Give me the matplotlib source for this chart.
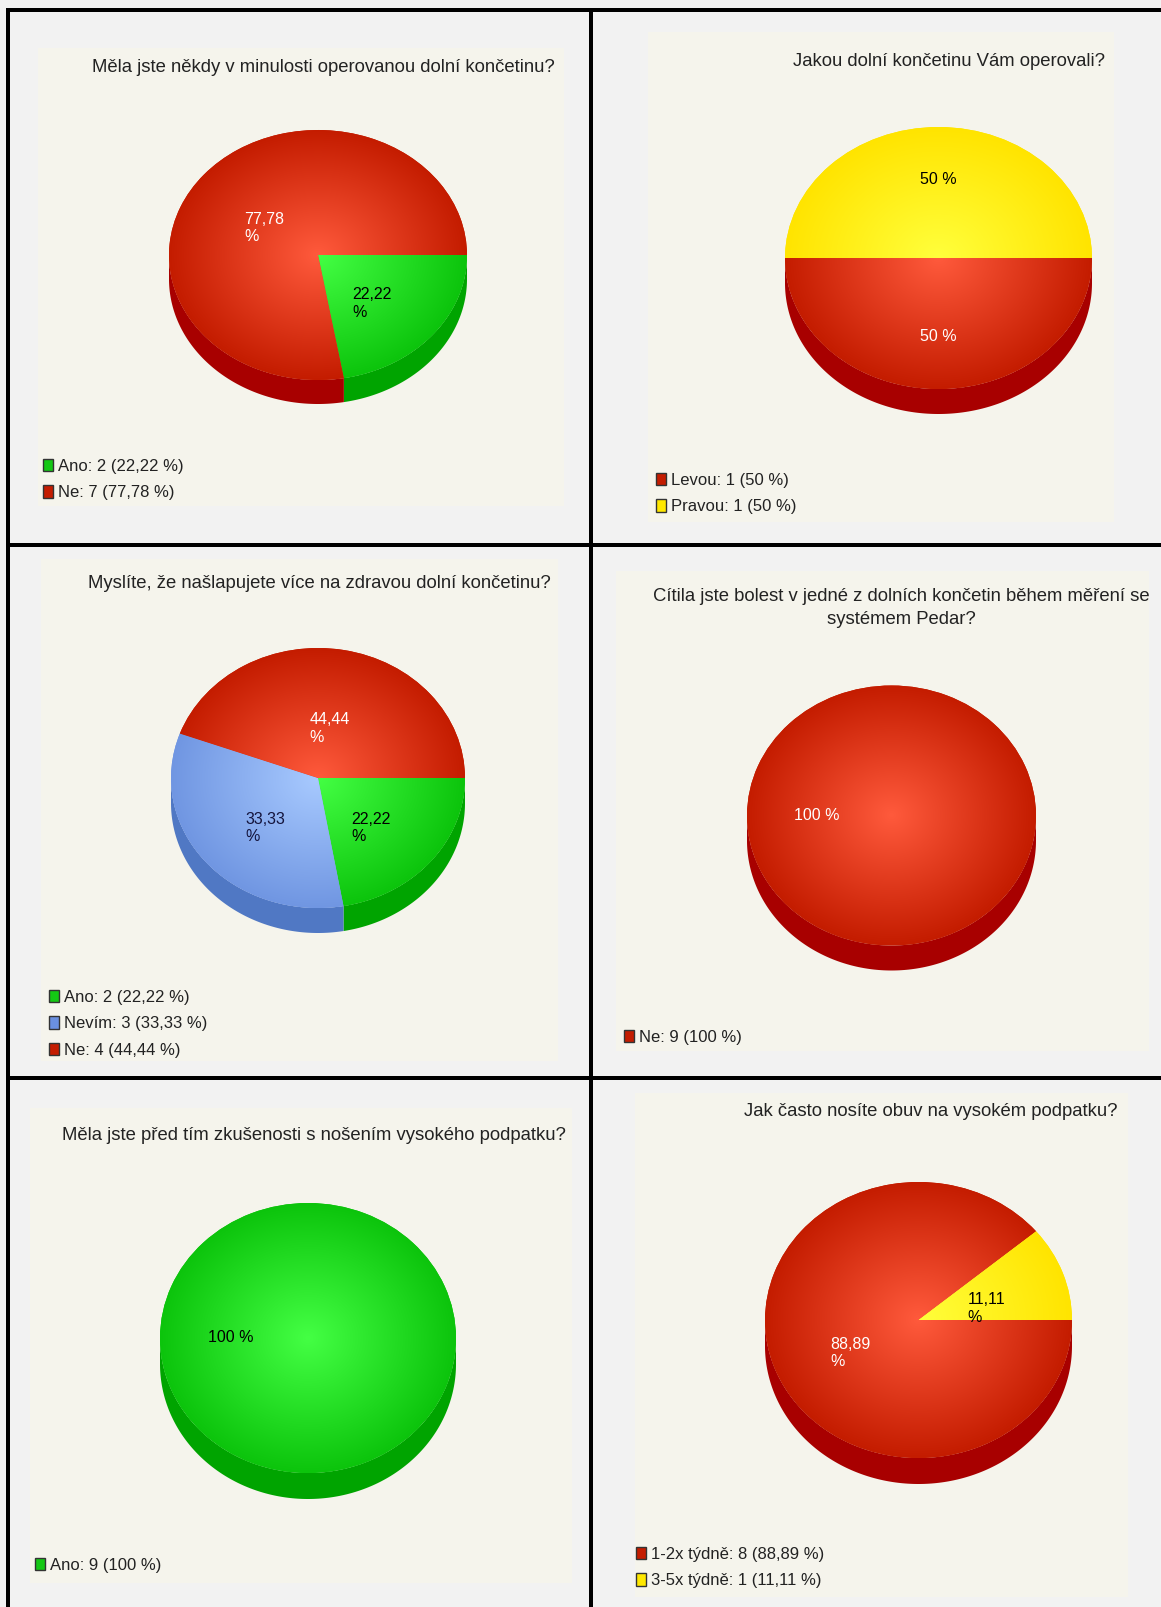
import numpy as np
import matplotlib
matplotlib.use('Agg')
import matplotlib.pyplot as plt
from matplotlib.patches import Rectangle
from matplotlib.colors import to_rgb

W, H = 1161, 1607

# one survey question per panel
titles = [
    'Měla jste někdy v minulosti operovanou dolní končetinu?',
    'Jakou dolní končetinu Vám operovali?',
    'Myslíte, že našlapujete více na zdravou dolní končetinu?',
    'Cítila jste bolest v jedné z dolních končetin během měření se\nsystémem Pedar?',
    'Měla jste před tím zkušenosti s nošením vysokého podpatku?',
    'Jak často nosíte obuv na vysokém podpatku?',
]
answers = [
    ['Ano', 'Ne'],
    ['Levou', 'Pravou'],
    ['Ano', 'Nevím', 'Ne'],
    ['Ne'],
    ['Ano'],
    ['1-2x týdně', '3-5x týdně'],
]
counts = [
    [2, 7],
    [1, 1],
    [2, 3, 4],
    [9],
    [9],
    [8, 1],
]
slice_colors = [
    ['green', 'red'],
    ['red', 'yellow'],
    ['green', 'blue', 'red'],
    ['red'],
    ['green'],
    ['red', 'yellow'],
]

# name: (gradient centre, gradient rim, side, legend box, label text)
palette = {
    'red':    ('#ff5a3c', '#c41c00', '#a80000', '#c41c00', 'white'),
    'green':  ('#44ff44', '#0cc40c', '#00a400', '#14c814', 'black'),
    'blue':   ('#a8caff', '#7096e2', '#5078c4', '#6a90e0', '#14143c'),
    'yellow': ('#ffff3c', '#ffe400', '#d8b800', '#ffe800', 'black'),
}

# panel geometry in pixels: beige box, title anchor, pie ellipse, legend
boxes = [(38, 48, 564, 506), (648, 32, 1114, 522), (41, 559, 558, 1061),
         (616, 571, 1149, 1051), (30, 1108, 572, 1583), (635, 1093, 1128, 1597)]
title_pos = [(555, 67, 'right'), (1105, 61, 'right'), (551, 583, 'right'),
             (901, 608, 'center'), (566, 1135, 'right'), (1117, 1112, 'right')]
pies = [(318, 255, 149, 125, 24), (938.5, 258, 153.5, 131, 25),
        (318, 778, 147, 130, 25), (891.5, 815.5, 144.5, 130, 25),
        (308, 1338, 148, 135, 26), (918.5, 1320, 153.5, 138, 26)]
pct_dist = [0.47, 0.6, 0.47, 0.52, 0.52, 0.47]
legend_pos = [(43, 468), (656, 482), (49, 999), (624, 1039), (35, 1567), (636, 1556)]

TITLE_FONT = ['Liberation Sans', 'DejaVu Sans']
LABEL_FONT = ['Liberation Sans Narrow', 'Liberation Sans', 'DejaVu Sans']


def fmt_pct(p):
    if abs(p - round(p)) < 1e-6:
        return f'{p:.0f}'
    return f'{p:.2f}'.replace('.', ',')


def autopct(p):
    s = fmt_pct(p)
    return s + ' %' if ',' not in s else s + '\n%'


def px_axes(fig, x0, y0, x1, y1):
    return fig.add_axes([x0 / W, 1 - y1 / H, (x1 - x0) / W, (y1 - y0) / H])


fig = plt.figure(figsize=(W / 100, H / 100), dpi=100, facecolor='#f2f2f2')
bg = fig.add_axes([0, 0, 1, 1])
bg.set_xlim(0, W)
bg.set_ylim(H, 0)
bg.axis('off')

# grid lines between panels
for x0, y0, w, h in [(6, 8, W, 4), (6, 8, 4, H), (589, 8, 4, H),
                     (6, 543, W, 4), (6, 1076, W, 4)]:
    bg.add_patch(Rectangle((x0, y0), w, h, color='black', lw=0))

for x0, y0, x1, y1 in boxes:
    bg.add_patch(Rectangle((x0, y0), x1 - x0, y1 - y0, color='#f5f4ec', lw=0))

gy, gx = np.mgrid[-1:1:400j, -1:1:400j]
rr = np.clip(np.hypot(gx, gy), 0, 1)[..., None]

for i in range(6):
    vals = counts[i]
    keys = slice_colors[i]
    cx, cy, rx, ry, depth = pies[i]
    d = depth / ry
    m = 0.03
    ax = px_axes(fig, cx - rx * (1 + m), cy - ry * (1 + m),
                 cx + rx * (1 + m), cy + ry * (1 + m) + depth)

    wedges, _, autotexts = ax.pie(
        vals, colors=[palette[k][1] for k in keys], startangle=0,
        counterclock=False, autopct=autopct, pctdistance=pct_dist[i],
        wedgeprops=dict(linewidth=0),
        textprops=dict(family=LABEL_FONT, fontsize=11.5))

    # extruded front rim
    for w, k in zip(wedges, keys):
        t1, t2 = w.theta1, w.theta2
        for base in (-540, -180, 180, 540):
            a, b = max(t1, base), min(t2, base + 180)
            if b <= a:
                continue
            t = np.radians(np.linspace(a, b, 200))
            xs = np.concatenate([np.cos(t), np.cos(t[::-1])])
            ys = np.concatenate([np.sin(t), np.sin(t[::-1]) - d])
            ax.fill(xs, ys, color=palette[k][2], lw=0, zorder=0.5)

    # radial shading on the top face
    for w, k in zip(wedges, keys):
        c0 = np.array(to_rgb(palette[k][0]))
        c1 = np.array(to_rgb(palette[k][1]))
        img = c0 + (c1 - c0) * rr
        ax.imshow(img, extent=(-1, 1, -1, 1), origin='lower',
                  interpolation='bilinear', clip_path=w, aspect='auto', zorder=1.5)

    # two-line labels hang from the first line, "%" underneath
    for txt, k in zip(autotexts, keys):
        txt.set_color(palette[k][4])
        txt.set_multialignment('left')
        txt.set_zorder(4)
        if '\n' in txt.get_text():
            x, y = txt.get_position()
            txt.set_position((x, y + 5.5 / ry))
            txt.set_verticalalignment('top')

    ax.set_aspect('auto')
    ax.set_xlim(-1 - m, 1 + m)
    ax.set_ylim(-1 - d - m, 1 + m)
    ax.axis('off')

    tx, ty, ha = title_pos[i]
    bg.text(tx, ty, titles[i], ha=ha, va='center', ma='center',
            family=TITLE_FONT, fontsize=13.3, color='#222222', linespacing=1.45)

    total = sum(vals)
    labels = [f'{a}: {c} ({fmt_pct(100 * c / total)} %)' for a, c in zip(answers[i], vals)]
    lx, ly = legend_pos[i]
    leg = ax.legend(wedges, labels, loc='upper left', bbox_to_anchor=(lx, ly - 9),
                    bbox_transform=bg.transData, frameon=False,
                    prop=dict(family=TITLE_FONT, size=12),
                    handlelength=0.6, handleheight=0.75, handletextpad=0.3,
                    labelspacing=0.68, borderpad=0, borderaxespad=0)
    for h, k in zip(leg.legend_handles, keys):
        h.set_facecolor(palette[k][3])
        h.set_edgecolor('#333333')
        h.set_linewidth(1)
    for t in leg.get_texts():
        t.set_color('#222222')

fig.savefig('out.png', dpi=100, facecolor=fig.get_facecolor())
